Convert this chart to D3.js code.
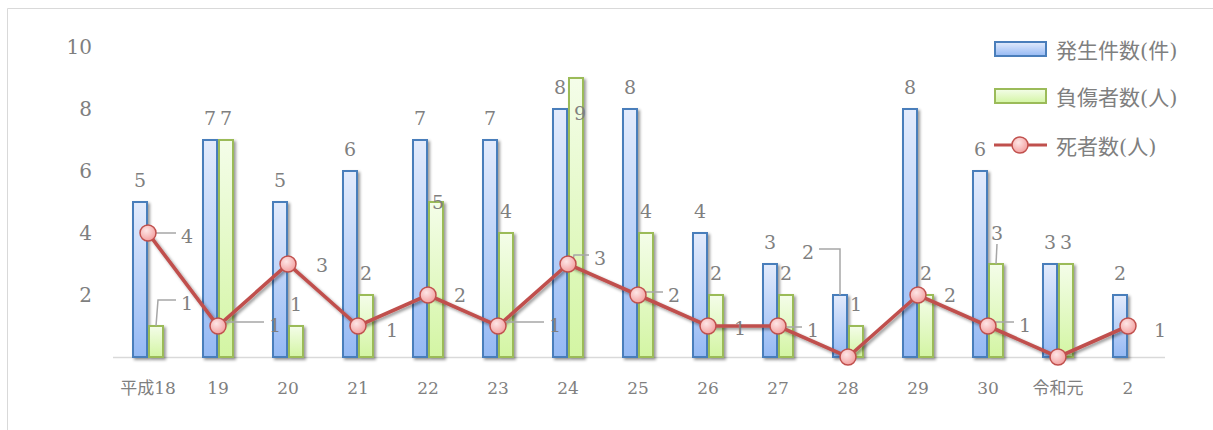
<!DOCTYPE html>
<html>
<head>
<meta charset="utf-8">
<script src="https://cdn.jsdelivr.net/npm/d3@7"></script>
<style>
  body { margin: 0; background: #fff; }
  svg text { font-family: "DejaVu Serif", "Noto Sans CJK JP", serif; fill: #7f7f7f; }
</style>
</head>
<body>
<div id="chart"></div>
<script>
// data
const categories = ["平成18", "19", "20", "21", "22", "23", "24", "25", "26", "27", "28", "29", "30", "令和元", "2"];
const incidents = [5, 7, 5, 6, 7, 7, 8, 8, 4, 3, 2, 8, 6, 3, 2];      // 発生件数(件)
const injured = [1, 7, 1, 2, 5, 4, 9, 4, 2, 2, 1, 2, 3, 3, null];     // 負傷者数(人)
const deaths = [4, 1, 3, 1, 2, 1, 3, 2, 1, 1, 0, 2, 1, 0, 1];          // 死者数(人)
const yTicks = [2, 4, 6, 8, 10];
const seriesNames = ["発生件数(件)", "負傷者数(人)", "死者数(人)"];

// label nudges (dx, dy, leader line: "h" = elbow, "v" = straight down)
const blueOff = {10: [-32, -21, "h"]};
const greenOff = {0: [31, -1, "h"], 4: [2, 22], 6: [4, 57], 12: [1, -9, "v"]};
const deathOff = {0: [5, 1, "h"], 1: [23, -3, "h"], 2: [0, -1], 3: [0, 2], 4: [-2, -2],
    5: [23, -3, "h"], 6: [-2, -8, "h"], 7: [2, -2, "h"], 8: [-2, 0], 9: [1, 2, "h"],
    11: [-2, -2], 12: [3, -3, "h"], 14: [-2, 2]};

const width = 1213, height = 430;
const svg = d3.select("#chart").append("svg").attr("width", width).attr("height", height);

const defs = svg.append("defs");
const shadow = defs.append("filter").attr("id", "shadow")
    .attr("x", "-30%").attr("y", "-30%").attr("width", "160%").attr("height", "160%");
shadow.append("feDropShadow").attr("dx", 2).attr("dy", 2).attr("stdDeviation", 1.6)
    .attr("flood-color", "#000").attr("flood-opacity", 0.4);

function vGrad(id, top, bottom) {
    const g = defs.append("linearGradient").attr("id", id)
        .attr("x1", 0).attr("y1", 0).attr("x2", 0).attr("y2", 1);
    g.append("stop").attr("offset", "0%").attr("stop-color", top);
    g.append("stop").attr("offset", "100%").attr("stop-color", bottom);
}
vGrad("blueGrad", "#e3ebfc", "#95b9f4");
vGrad("greenGrad", "#f4fde9", "#d3f5a3");
const rg = defs.append("radialGradient").attr("id", "dotGrad").attr("cx", "40%").attr("cy", "35%").attr("r", "70%");
rg.append("stop").attr("offset", "0%").attr("stop-color", "#fde6e6");
rg.append("stop").attr("offset", "100%").attr("stop-color", "#f39c9c");

// outer frame
svg.append("path").attr("d", "M7.5,430 V8.5 H1213").attr("fill", "none").attr("stroke", "#d9d9d9");

const x = d3.scaleBand().domain(categories).range([113, 1163]);
const y = d3.scaleLinear().domain([0, 10]).range([357, 47]);
const sub = d3.scaleBand().domain([0, 1]).range([-16, 16]);
const cx = (i) => x(categories[i]) + x.bandwidth() / 2;

// y tick labels
svg.append("g").selectAll("text").data(yTicks).enter().append("text")
    .attr("x", 92).attr("y", (d) => y(d)).attr("dy", "0.35em")
    .attr("text-anchor", "end").attr("font-size", 20).text((d) => d);

// baseline
svg.append("line").attr("x1", 113).attr("x2", 1165).attr("y1", y(0) + 0.5).attr("y2", y(0) + 0.5)
    .attr("stroke", "#d9d9d9").attr("stroke-width", 1.5);

// category labels
svg.append("g").selectAll("text").data(categories).enter().append("text")
    .attr("x", (d, i) => cx(i)).attr("y", 388).attr("dy", "0.35em")
    .attr("text-anchor", "middle").attr("font-size", 17).text((d) => d);

// bars
const barSeries = [
    { vals: incidents, k: 0, fill: "url(#blueGrad)", stroke: "#4a7ebb", off: blueOff },
    { vals: injured, k: 1, fill: "url(#greenGrad)", stroke: "#9bbb59", off: greenOff }
];
barSeries.forEach((s) => {
    svg.append("g").attr("filter", "url(#shadow)").selectAll("rect")
        .data(s.vals.map((v, i) => ({ v, i })).filter((d) => d.v != null && d.v > 0))
        .enter().append("rect")
        .attr("x", (d) => cx(d.i) + sub(s.k) + 1)
        .attr("y", (d) => y(d.v))
        .attr("width", sub.bandwidth() - 2)
        .attr("height", (d) => y(0) - y(d.v))
        .attr("fill", s.fill).attr("stroke", s.stroke).attr("stroke-width", 2);
});

// death line
const line = d3.line().x((d, i) => cx(i)).y((d) => y(d));
svg.append("path").datum(deaths).attr("d", line).attr("fill", "none")
    .attr("stroke", "#c0504d").attr("stroke-width", 3.6).attr("filter", "url(#shadow)");

const leaders = svg.append("g");
const labels = svg.append("g");

function addLabel(lx, ly, mx, my, txt, leader) {
    labels.append("text").attr("x", lx).attr("y", ly).attr("dy", "0.35em")
        .attr("text-anchor", "middle").attr("font-size", 19).text(txt);
    if (!leader) return;
    let pts;
    if (leader === "h") {
        const sx = lx > mx ? lx - 11 : lx + 11;
        pts = [[sx, ly - 3], [mx + (lx > mx ? 2 : 0), ly - 3], [mx, my]];
    } else {
        pts = [[lx, ly + 11], [mx, my]];
    }
    leaders.append("path").attr("d", d3.line()(pts)).attr("fill", "none")
        .attr("stroke", "#a6a6a6").attr("stroke-width", 1.5);
}

// markers
svg.append("g").selectAll("circle").data(deaths).enter().append("circle")
    .attr("cx", (d, i) => cx(i)).attr("cy", (d) => y(d)).attr("r", 8)
    .attr("fill", "url(#dotGrad)").attr("stroke", "#c0504d").attr("stroke-width", 1.5);

// bar labels
barSeries.forEach((s) => {
    s.vals.forEach((v, i) => {
        if (v == null || v === 0) return;
        const mx = cx(i) + sub(s.k) + sub.bandwidth() / 2;
        const my = y(v);
        const o = s.off[i] || [0, 0, null];
        addLabel(mx + o[0], my - 22 + o[1], mx, my, v, o[2]);
    });
});

// death labels (zeros hidden)
deaths.forEach((v, i) => {
    if (v === 0) return;
    const mx = cx(i), my = y(v);
    const o = deathOff[i] || [0, 0, null];
    addLabel(mx + 34 + o[0], my + 2 + o[1], mx + 4, my, v, o[2]);
});

// legend
const lg = svg.append("g");
[0, 1].forEach((k) => {
    const ly = 49 + k * 47;
    lg.append("rect").attr("x", 995).attr("y", ly - 7).attr("width", 51).attr("height", 14)
        .attr("fill", barSeries[k].fill).attr("stroke", barSeries[k].stroke).attr("stroke-width", 2);
    lg.append("text").attr("x", 1056).attr("y", ly + 2).attr("dy", "0.35em")
        .attr("font-size", 21).attr("font-family", "Noto Sans CJK JP").text(seriesNames[k]);
});
lg.append("line").attr("x1", 994).attr("x2", 1047).attr("y1", 145).attr("y2", 145)
    .attr("stroke", "#c0504d").attr("stroke-width", 3);
lg.append("circle").attr("cx", 1020).attr("cy", 145).attr("r", 8)
    .attr("fill", "url(#dotGrad)").attr("stroke", "#c0504d").attr("stroke-width", 1.5);
lg.append("text").attr("x", 1056).attr("y", 147).attr("dy", "0.35em")
    .attr("font-size", 21).attr("font-family", "Noto Sans CJK JP").text(seriesNames[2]);
</script>
</body>
</html>
